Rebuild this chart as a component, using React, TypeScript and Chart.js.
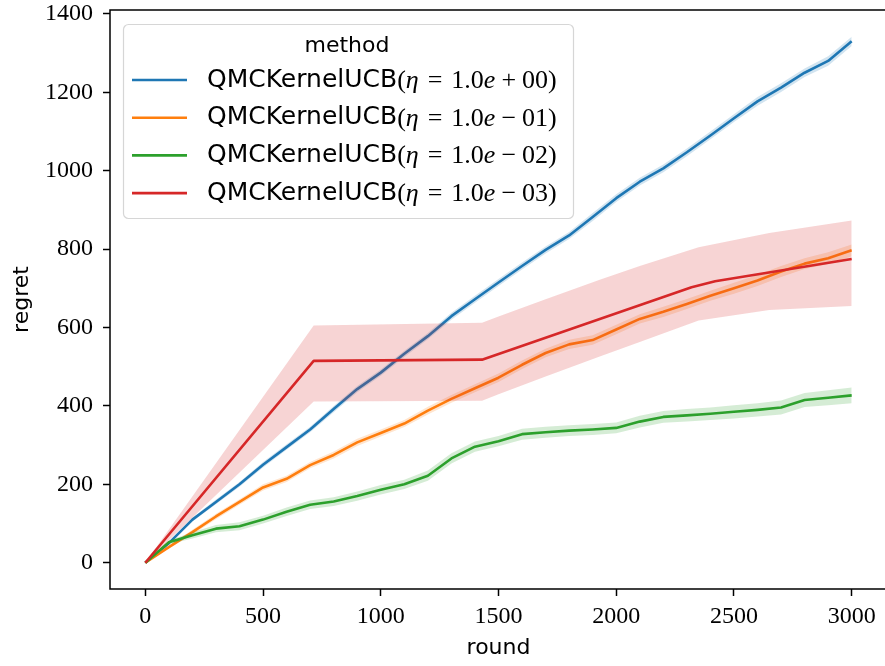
import React, { useEffect, useRef } from "react";
import { Chart, registerables } from "chart.js";

Chart.register(...registerables);

// ---------- data ----------
const rounds = [
  0, 100, 200, 300, 400, 500, 600, 700, 800, 900, 1000, 1100, 1200, 1300, 1400, 1500,
  1600, 1700, 1800, 1900, 2000, 2100, 2200, 2300, 2400, 2500, 2600, 2700, 2800, 2900, 3000,
];

// eta = 1.0e+00 (blue)
const regretEta0 = [
  0, 50, 110, 155, 200, 250, 295, 340, 392, 443, 485, 533, 578, 629, 672, 715,
  757, 798, 835, 882, 930, 972, 1006, 1047, 1090, 1134, 1177, 1212, 1250, 1280, 1330,
];
const spreadEta0 = [
  0, 3, 5, 6, 6, 7, 7, 7, 8, 8, 8, 8, 8, 9, 9, 9, 9, 9, 9, 10, 10, 10, 10, 10, 10, 10, 11, 11, 11, 12, 12,
];

// eta = 1.0e-01 (orange)
const regretEta1 = [
  0, 40, 78, 118, 155, 192, 214, 249, 275, 307, 331, 355, 388, 418, 445, 472,
  505, 535, 557, 568, 595, 622, 640, 660, 681, 700, 720, 743, 763, 777, 797,
];
const spreadEta1 = [
  0, 4, 6, 7, 7, 8, 8, 8, 9, 9, 9, 9, 10, 10, 10, 11, 11, 11, 12, 12, 12, 12, 13, 13, 13, 14, 14, 14, 14, 15, 15,
];

// eta = 1.0e-02 (green)
const regretEta2 = [
  0, 52, 70, 87, 93, 110, 130, 148, 156, 170, 186, 200, 222, 266, 296, 310,
  328, 333, 337, 340, 344, 360, 372, 376, 380, 385, 390, 396, 415, 421, 427,
];
const spreadEta2 = [
  0, 5, 8, 9, 10, 10, 11, 11, 11, 12, 12, 12, 13, 13, 13, 13, 14, 14, 14, 14, 14, 15, 15, 16, 16, 17, 17, 18, 18, 19, 20,
];

// eta = 1.0e-03 (red)
const roundsEta3 = [0, 715, 1430, 2320, 2420, 3000];
const regretEta3 = [0, 515, 518, 703, 718, 775];
const bandRoundsEta3 = [0, 715, 1430, 1500, 1700, 1930, 2100, 2350, 2650, 3000];
const lowerEta3 = [0, 411, 413, 430, 475, 526, 563, 618, 645, 655];
const upperEta3 = [0, 605, 612, 628, 672, 722, 757, 805, 841, 873];

const xTickValues = [0, 500, 1000, 1500, 2000, 2500, 3000];
const yTickValues = [0, 200, 400, 600, 800, 1000, 1200, 1400];

const legendTitle = "method";
const methodName = "QMCKernelUCB";
const etaExponents = ["+ 00", "\u2212 01", "\u2212 02", "\u2212 03"];
const colors = ["#1f77b4", "#ff7f0e", "#2ca02c", "#d62728"];
const bandColors = [
  "rgba(31,119,180,0.2)",
  "rgba(255,127,14,0.2)",
  "rgba(44,160,44,0.2)",
  "rgba(214,39,40,0.2)",
];

const xTitle = "round";
const yTitle = "regret";

// ---------- helpers ----------
const pts = (xs: number[], ys: number[]) => xs.map((x, i) => ({ x, y: ys[i] }));

const SANS = '"DejaVu Sans"';
const SERIF = '"Liberation Serif"';

const W = 890;
const H = 666;

const framePlugin = {
  id: "frame",
  afterDatasetsDraw(chart: any) {
    const { ctx, chartArea } = chart;
    const { left, right, top, bottom } = chartArea;
    ctx.save();
    ctx.strokeStyle = "#000";
    ctx.lineWidth = 1.5;
    ctx.beginPath();
    ctx.rect(left, top, right - left, bottom - top);
    ctx.stroke();
    ctx.restore();
  },
};

const legendPlugin = {
  id: "mplLegend",
  afterDraw(chart: any) {
    const ctx = chart.ctx as CanvasRenderingContext2D;
    ctx.save();
    const bx = 123.5, by = 24.5, bw = 450, bh = 194;
    ctx.beginPath();
    (ctx as any).roundRect(bx, by, bw, bh, 5);
    ctx.fillStyle = "rgba(255,255,255,0.8)";
    ctx.fill();
    ctx.strokeStyle = "rgba(204,204,204,0.8)";
    ctx.lineWidth = 1.2;
    ctx.stroke();

    ctx.fillStyle = "#000";
    ctx.textBaseline = "middle";
    ctx.textAlign = "center";
    ctx.font = `22px ${SANS}`;
    ctx.fillText(legendTitle, 347, 46);
    ctx.textAlign = "left";

    const roman = `26px ${SERIF}`;
    const italic = `italic 26px ${SERIF}`;
    etaExponents.forEach((exp, i) => {
      const y = 80 + i * 37.7;
      ctx.strokeStyle = colors[i];
      ctx.lineWidth = 2.6;
      ctx.beginPath();
      ctx.moveTo(132, y);
      ctx.lineTo(187, y);
      ctx.stroke();

      ctx.font = `25px ${SANS}`;
      ctx.fillText(methodName, 207, y);
      let x = 207 + ctx.measureText(methodName).width;
      const [op, digits] = exp.split(" ");
      const segs: [string, string, number][] = [
        ["(", roman, 0],
        ["\u03b7", italic, 0],
        ["=", roman, 9],
        ["1.0", roman, 9],
        ["e", italic, 0],
        [op, roman, 6],
        [digits + ")", roman, 6],
      ];
      segs.forEach(([t, f, gap]) => {
        x += gap;
        ctx.font = f;
        ctx.fillText(t, x, y + 1);
        x += ctx.measureText(t).width;
      });
    });
    ctx.restore();
  },
};

export default function App() {
  const ref = useRef<HTMLCanvasElement | null>(null);

  useEffect(() => {
    if (!ref.current) return;
    const series = [
      { mean: pts(rounds, regretEta0), lo: pts(rounds, regretEta0.map((v, i) => v - spreadEta0[i])), hi: pts(rounds, regretEta0.map((v, i) => v + spreadEta0[i])) },
      { mean: pts(rounds, regretEta1), lo: pts(rounds, regretEta1.map((v, i) => v - spreadEta1[i])), hi: pts(rounds, regretEta1.map((v, i) => v + spreadEta1[i])) },
      { mean: pts(rounds, regretEta2), lo: pts(rounds, regretEta2.map((v, i) => v - spreadEta2[i])), hi: pts(rounds, regretEta2.map((v, i) => v + spreadEta2[i])) },
      { mean: pts(roundsEta3, regretEta3), lo: pts(bandRoundsEta3, lowerEta3), hi: pts(bandRoundsEta3, upperEta3) },
    ];
    const datasets: any[] = [];
    series.forEach((s, k) => {
      const base = datasets.length;
      datasets.push({
        label: `${methodName} ${etaExponents[k]}`,
        data: s.mean,
        borderColor: colors[k],
        borderWidth: 2.6,
        borderJoinStyle: "round",
        pointRadius: 0,
        fill: false,
        tension: 0,
        order: 100 - 10 * k,
      });
      datasets.push({
        label: `lower ${k}`,
        data: s.lo,
        borderWidth: 0,
        borderColor: "rgba(0,0,0,0)",
        pointRadius: 0,
        fill: false,
        tension: 0,
        order: 99 - 10 * k,
      });
      datasets.push({
        label: `upper ${k}`,
        data: s.hi,
        borderWidth: 0,
        borderColor: "rgba(0,0,0,0)",
        backgroundColor: bandColors[k],
        pointRadius: 0,
        fill: base + 1,
        tension: 0,
        order: 98 - 10 * k,
      });
    });

    const tickGrid = { display: true, drawOnChartArea: false, drawTicks: true, tickLength: 7, tickColor: "#000", tickWidth: 1.5 };

    const chart = new Chart(ref.current, {
      type: "line",
      data: { datasets },
      options: {
        animation: false,
        responsive: false,
        devicePixelRatio: 1,
        layout: { padding: { top: 10, right: 3, bottom: 0, left: 0 } },
        plugins: { legend: { display: false }, tooltip: { enabled: false } },
        scales: {
          x: {
            type: "linear",
            min: -150,
            max: 3150,
            grid: tickGrid,
            border: { display: false },
            afterBuildTicks: (s: any) => { s.ticks = xTickValues.map((v) => ({ value: v })); },
            ticks: {
              autoSkip: false,
              maxRotation: 0,
              padding: 6,
              color: "#000",
              font: { family: SERIF, size: 24 },
              callback: (v: any) => String(v),
            },
            title: { display: true, text: xTitle, color: "#000", font: { family: SANS, size: 22 }, padding: { top: 0, bottom: 5 } },
            afterFit: (s: any) => { s.height = 77; s.paddingLeft = 0; s.paddingRight = 0; },
          },
          y: {
            type: "linear",
            min: -67,
            max: 1410,
            grid: tickGrid,
            border: { display: false },
            afterBuildTicks: (s: any) => { s.ticks = yTickValues.map((v) => ({ value: v })); },
            ticks: {
              autoSkip: false,
              padding: 10,
              color: "#000",
              font: { family: SERIF, size: 24 },
              callback: (v: any) => String(v),
            },
            title: { display: true, text: yTitle, color: "#000", font: { family: SANS, size: 22 }, padding: { top: 9, bottom: 0 } },
            afterFit: (s: any) => { s.width = 110; s.paddingTop = 0; s.paddingBottom = 0; },
          },
        },
      } as any,
      plugins: [framePlugin, legendPlugin],
    });
    return () => chart.destroy();
  }, []);

  return (
    <div style={{ position: "fixed", left: 0, top: 0, width: 885, height: 666, overflow: "hidden", background: "#fff" }}>
      <canvas ref={ref} width={W} height={H} style={{ display: "block", width: W, height: H }} />
    </div>
  );
}
